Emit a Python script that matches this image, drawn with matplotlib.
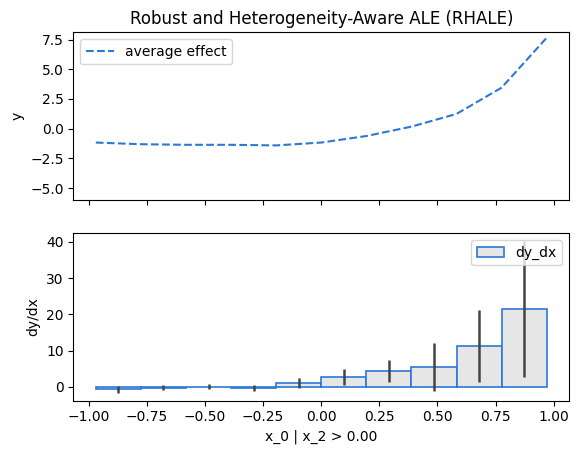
import numpy as np
import matplotlib
matplotlib.use("Agg")
import matplotlib.pyplot as plt

# Data
bin_edges = [-0.97, -0.776, -0.582, -0.388, -0.194, 0.0, 0.194, 0.388, 0.582, 0.776, 0.97]
ale_values = [-1.17, -1.31, -1.36, -1.36, -1.41, -1.17, -0.62, 0.17, 1.24, 3.45, 7.65]
dy_dx = [-0.72, -0.28, 0.05, -0.28, 1.1, 2.7, 4.4, 5.5, 11.3, 21.5]
dy_dx_std = [1.05, 0.65, 0.8, 0.8, 1.35, 2.15, 3.0, 6.6, 10.0, 18.8]

title = "Robust and Heterogeneity-Aware ALE (RHALE)"
xlabel = "x_0 | x_2 > 0.00"

line_color = "#2b78d6"

fig = plt.figure(figsize=(5.78, 4.55), dpi=100)
ax1 = fig.add_axes([0.1268, 0.5598, 0.858, 0.3692])
ax2 = fig.add_axes([0.1268, 0.1193, 0.858, 0.3680], sharex=ax1)

ax1.plot(bin_edges, ale_values, linestyle="--", color=line_color, lw=1.5, label="average effect")
ax1.set_ylim(-6.03, 8.11)
ax1.set_ylabel("y")
ax1.set_title(title)
ax1.legend(loc="upper left")
ax1.tick_params(labelbottom=False)

edges = np.array(bin_edges)
centers = (edges[:-1] + edges[1:]) / 2
widths = np.diff(edges)
ax2.bar(centers, dy_dx, width=widths, color=(0.9, 0.9, 0.9), edgecolor=line_color,
        linewidth=1.2, yerr=dy_dx_std, ecolor="#444444",
        error_kw=dict(elinewidth=1.8, capsize=0), label="dy_dx")
ax2.set_ylabel("dy/dx")
ax2.set_xlabel(xlabel)
ax2.legend(loc="upper right")
ax2.set_xticks([-1.0, -0.75, -0.5, -0.25, 0.0, 0.25, 0.5, 0.75, 1.0])

fig.savefig("out.png", dpi=100)
